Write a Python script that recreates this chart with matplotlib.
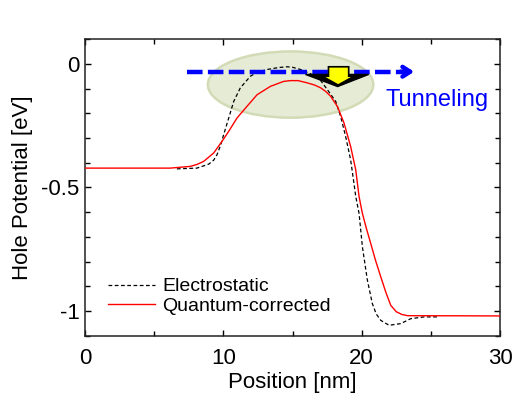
import numpy as np
import matplotlib.pyplot as plt
from matplotlib.patches import Ellipse, Polygon
from matplotlib.ticker import MultipleLocator

plt.rcParams['font.family'] = ['Liberation Sans', 'DejaVu Sans']

# Elektrostatisk potential (streckad)
pos_es = [6.64, 8.09, 8.94, 9.3, 9.54, 9.8, 10.02, 10.39, 10.75, 11.23, 11.96, 12.5, 13.17,
          14.0, 14.61, 15.0, 15.58, 16.3, 17.0, 17.51, 18.12, 18.48, 18.84, 19.2, 19.44,
          19.57, 19.81, 20.05, 20.41, 20.77, 21.05, 21.38, 21.98, 22.83, 23.55, 24.52, 25.5]
pot_es = [-0.425, -0.422, -0.406, -0.390, -0.368, -0.330, -0.287, -0.219, -0.152, -0.097,
          -0.050, -0.033, -0.023, -0.015, -0.012, -0.014, -0.023, -0.040, -0.065, -0.104,
          -0.152, -0.213, -0.294, -0.388, -0.483, -0.537, -0.605, -0.740, -0.875, -0.970,
          -1.012, -1.038, -1.058, -1.051, -1.031, -1.024, -1.024]

# Kvantkorrigerad potential
pos_qc = [0, 6.16, 7.61, 8.1, 8.57, 9.3, 9.9, 10.39, 10.99, 11.71, 12.44, 13.41, 14.37,
          14.86, 15.4, 16.06, 16.6, 17.03, 17.4, 17.75, 18.24, 18.72, 19.2, 19.57, 19.81,
          20.05, 20.35, 20.65, 21.0, 21.38, 21.75, 22.10, 22.5, 22.9, 23.31, 30]
pot_qc = [-0.422, -0.422, -0.415, -0.407, -0.395, -0.361, -0.314, -0.273, -0.219, -0.172,
          -0.125, -0.091, -0.071, -0.068, -0.068, -0.077, -0.086, -0.097, -0.112, -0.131,
          -0.172, -0.239, -0.334, -0.429, -0.537, -0.605, -0.668, -0.726, -0.795, -0.862,
          -0.925, -0.977, -1.003, -1.014, -1.019, -1.020]

fig = plt.figure(figsize=(5.14, 4.03), dpi=100)
ax = fig.add_axes([0.1654, 0.167, 0.8074, 0.736])

# Grön ellips bakom toppen
ax.add_patch(Ellipse((14.86, -0.084), 11.96, 0.268, facecolor='#e6ebd6',
                     edgecolor='#d2dbb6', lw=1.8, zorder=1))

ax.plot(pos_es, pot_es, color='black', ls=(0, (3, 2)), lw=0.9, label='Electrostatic', zorder=3)
ax.plot(pos_qc, pot_qc, color='red', lw=1.0, label='Quantum-corrected', zorder=3)

# Blå streckad pil
ax.plot([7.4, 23.3], [-0.032, -0.032], color='#0000ff', lw=3.2, ls=(0, (3.5, 1.2)),
        solid_capstyle='butt', dash_capstyle='butt', zorder=4)
ax.annotate('', xy=(24.0, -0.032), xytext=(22.6, -0.032),
            arrowprops=dict(arrowstyle='->,head_length=0.55,head_width=0.35',
                            color='#0000ff', lw=3.2), zorder=4)

# Gul pil med svart skugga
ax.add_patch(Polygon([(15.94, -0.043), (20.5, -0.043), (18.26, -0.092)],
                     closed=True, facecolor='black', edgecolor='black', zorder=5))
ax.add_patch(Polygon([(17.6, -0.012), (19.06, -0.012), (19.06, -0.050), (19.45, -0.050),
                      (18.3, -0.086), (17.15, -0.050), (17.6, -0.050)],
                     closed=True, facecolor='#ffff00', edgecolor='black', lw=1.2, zorder=6))

ax.text(21.7, -0.147, 'Tunneling', color='#0000ff', fontsize=17, va='center', ha='left')

ax.set_xlim(0, 30)
ax.set_ylim(-1.1, 0.1)
ax.set_xticks([0, 10, 20, 30])
ax.set_yticks([0, -0.5, -1])
ax.set_yticklabels(['0', '-0.5', '-1'])
ax.xaxis.set_minor_locator(MultipleLocator(5))
ax.yaxis.set_minor_locator(MultipleLocator(0.1))
ax.tick_params(which='both', direction='in', top=True, right=True, width=1.0)
ax.tick_params(which='major', length=4, labelsize=16)
ax.tick_params(which='minor', length=3.5)
ax.tick_params(axis='x', pad=9)
ax.tick_params(axis='y', pad=4)
for s in ax.spines.values():
    s.set_linewidth(1.1)
    s.set_color('#222222')

ax.set_xlabel('Position [nm]', fontsize=16, labelpad=2)
ax.set_ylabel('Hole Potential [eV]', fontsize=16, labelpad=6)

ax.legend(loc='lower left', bbox_to_anchor=(0.055, 0.07), frameon=False, fontsize=14,
          handlelength=2.4, handletextpad=0.4, labelspacing=0.1, borderpad=0, borderaxespad=0)

fig.savefig('out.png', dpi=100)
